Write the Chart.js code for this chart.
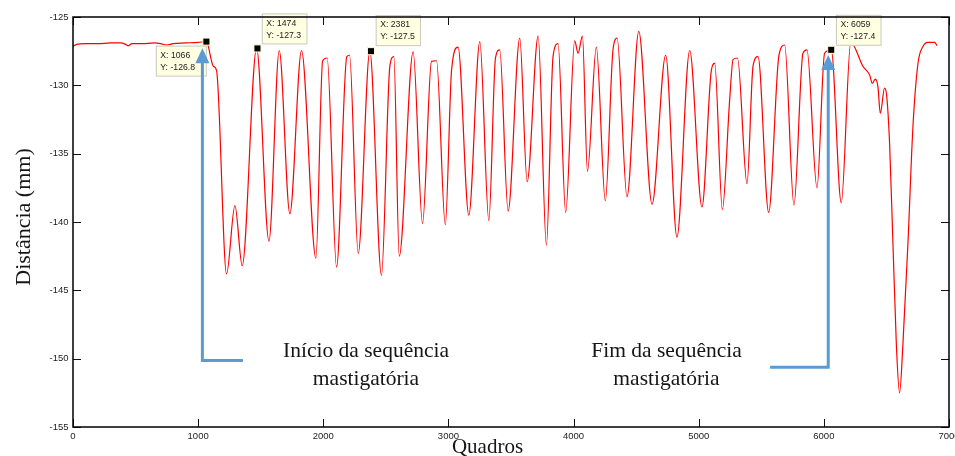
<!DOCTYPE html>
<html><head><meta charset="utf-8">
<script src="https://cdn.jsdelivr.net/npm/chart.js@4/dist/chart.umd.min.js"></script>
<style>html,body{margin:0;padding:0;background:#fff;}canvas{display:block;}</style>
</head><body>
<canvas id="c" width="955" height="456"></canvas>
<script>
// ---- data ----
const frames = [0,30,100,200,300,380,420,442,470,550,650,700,748,800,900,1000,1066,
1121,1147,1227,1294,1352,1467,1566,1648,1733,1826,1941,1995,2031,2106,2188,2210,2279,2372,2465,2532,2564,2607,2718,2793,2865,2905,2975,3025,3077,3163,3251,3323,3376,3410,3477,3570,3629,3717,3783,3836,3876,3937,4009,4036,4071,4111,4182,4254,4315,4348,4427,4521,4627,4736,4826,4928,5026,5101,5128,5189,5247,5275,5310,5386,5434,5474,5559,5641,5687,5761,5833,5865,5945,6006,6059,6139,6215,6312,6366,6387,6411,6432,6451,6485,6500,6525,6552,6579,6605,6632,6672,6712,6752,6792,6832,6885,6904];
const distance = [-127.15,-127.0,-126.95,-126.95,-126.9,-126.9,-127.0,-127.1,-126.95,-126.95,-126.9,-126.95,-127.05,-126.95,-126.9,-126.85,-126.8,
-128.6,-128.9,-143.8,-138.8,-143.2,-127.3,-141.4,-127.45,-139.4,-127.45,-142.65,-128.2,-128.0,-143.3,-127.9,-127.8,-142.3,-127.5,-143.9,-128.6,-127.9,-142.5,-127.55,-140.1,-128.25,-128.2,-140.2,-128.9,-127.2,-139.5,-126.8,-139.9,-128.0,-127.4,-139.2,-126.55,-137.05,-126.4,-141.7,-127.9,-126.95,-139.3,-126.75,-127.65,-126.4,-136.3,-127.2,-138.45,-127.4,-126.55,-138.15,-126.05,-138.7,-127.8,-141.1,-127.45,-138.9,-128.9,-128.4,-139.1,-131.1,-128.1,-128.0,-137.2,-128.6,-127.9,-139.3,-127.8,-127.05,-138.75,-127.65,-127.4,-137.5,-127.65,-127.4,-138.6,-126.85,-128.6,-129.25,-129.85,-129.55,-130.1,-132.05,-130.2,-130.6,-134.2,-141.55,-148.9,-152.5,-148.9,-141.55,-133.0,-128.4,-127.15,-126.85,-126.85,-127.1];
const xTickValues = [0,1000,2000,3000,4000,5000,6000,7000];
const yTickValues = [-155,-150,-145,-140,-135,-130,-125];
const tipFrames = [1066,1474,2381,6059];
const tipValues = [-126.8,-127.3,-127.5,-127.4];
const xTitle = 'Quadros';
const yTitle = 'Distância (mm)';
const startLabel = ['Início da sequência','mastigatória'];
const endLabel = ['Fim da sequência','mastigatória'];

// ---- layout / style (not data) ----
const tipLayout = [ {dx:-50.6, dy:4, w:51}, {dx:4.3, dy:-35, w:45.7}, {dx:4.7, dy:-36, w:45.3}, {dx:4.7, dy:-35, w:45.6} ];
const arrows = [ {x:1034, top:-127.29, bottom:-150.14, hx:1358}, {x:6035, top:-127.78, bottom:-150.63, hx:5570} ];
const SANS = "'Liberation Sans', Arial, sans-serif";
const SERIF = "'Liberation Serif', 'Times New Roman', serif";

const lineData = frames.map((f,i)=>({x:f, y:distance[i]}));
const tipData = tipFrames.map((f,i)=>({x:f, y:tipValues[i]}));

const deco = {
  id:'deco',
  beforeDraw(chart){
    const c = chart.ctx; c.save(); c.fillStyle='#fff'; c.fillRect(0,0,chart.width,chart.height); c.restore();
  },
  afterDatasetsDraw(chart){
    const c = chart.ctx, xs = chart.scales.x, ys = chart.scales.y;
    c.save();
    // data tips
    c.font = '8.7px ' + SANS;
    c.textBaseline = 'middle'; c.textAlign = 'left';
    tipFrames.forEach((f,i)=>{
      const mx = xs.getPixelForValue(f), my = ys.getPixelForValue(tipValues[i]);
      const L = tipLayout[i];
      const bx = mx + L.dx, by = my + L.dy, bw = L.w, bh = 31;
      c.fillStyle = '#FFFFE1'; c.fillRect(bx, by, bw, bh);
      c.strokeStyle = '#C9C9C0'; c.lineWidth = 1; c.strokeRect(bx+0.5, by+0.5, bw-1, bh-1);
      c.fillStyle = '#222';
      c.fillText('X: ' + f, bx+4.5, by+9.8);
      c.fillText('Y: ' + tipValues[i].toFixed(1), bx+4.5, by+21.8);
    });
    // arrows (drawn over the tips)
    const blue = '#5B9BD5';
    arrows.forEach(a=>{
      const x = xs.getPixelForValue(a.x), yt = ys.getPixelForValue(a.top), yb = ys.getPixelForValue(a.bottom), hx = xs.getPixelForValue(a.hx);
      c.strokeStyle = blue; c.lineWidth = 3; c.lineJoin='miter'; c.lineCap='butt';
      c.beginPath(); c.moveTo(hx, yb); c.lineTo(x, yb); c.lineTo(x, yt+14); c.stroke();
      c.fillStyle = blue; c.beginPath(); c.moveTo(x, yt); c.lineTo(x-7, yt+15); c.lineTo(x+7, yt+15); c.closePath(); c.fill();
    });
    c.restore();
  },
  afterDraw(chart){
    const c = chart.ctx, a = chart.chartArea, xs = chart.scales.x, ys = chart.scales.y;
    c.save();
    // inward ticks
    c.strokeStyle = '#111'; c.lineWidth = 1;
    const tl = 8;
    xTickValues.forEach(v=>{
      const x = Math.round(xs.getPixelForValue(v))+0.5;
      c.beginPath(); c.moveTo(x, a.bottom); c.lineTo(x, a.bottom-tl); c.moveTo(x, a.top); c.lineTo(x, a.top+tl); c.stroke();
    });
    yTickValues.forEach(v=>{
      const y = Math.round(ys.getPixelForValue(v))+0.5;
      c.beginPath(); c.moveTo(a.left, y); c.lineTo(a.left+tl, y); c.moveTo(a.right, y); c.lineTo(a.right-tl, y); c.stroke();
    });
    // box
    c.strokeStyle = '#000'; c.lineWidth = 1.5;
    c.strokeRect(a.left, a.top, a.right-a.left, a.bottom-a.top);
    // annotation texts
    c.fillStyle = '#151515'; c.textAlign = 'center'; c.textBaseline = 'alphabetic';
    c.font = '21.5px ' + SERIF;
    c.fillText(startLabel[0], 366, 356.7);
    c.fillText(startLabel[1], 366, 384.5);
    c.fillText(endLabel[0], 666.5, 356.7);
    c.fillText(endLabel[1], 666.5, 384.5);
    // axis titles
    c.font = '21px ' + SERIF;
    c.fillText(xTitle, 487.5, 452.5);
    c.save();
    c.translate(30, 217); c.rotate(-Math.PI/2);
    c.font = '22px ' + SERIF;
    c.fillText(yTitle, 0, 0);
    c.restore();
    c.restore();
  }
};

new Chart(document.getElementById('c'), {
  type: 'line',
  data: {
    datasets: [
      { data: tipData, showLine:false, pointStyle:'rect', pointRadius:5, pointBackgroundColor:'#000', pointBorderColor:'#FFFFCC', pointBorderWidth:1, order:1 },
      { data: lineData, borderColor:'#FF0000', borderWidth:1.2, pointRadius:0, cubicInterpolationMode:'monotone', fill:false, order:2 }
    ]
  },
  options: {
    responsive:false, animation:false, devicePixelRatio:1,
    layout:{ padding:{ top:17, right:4, left:0, bottom:0 } },
    plugins:{ legend:{display:false}, tooltip:{enabled:false} },
    scales:{
      x:{ type:'linear', min:0, max:7000,
          grid:{display:false, drawTicks:false}, border:{display:false},
          afterBuildTicks:s=>{ s.ticks = xTickValues.map(v=>({value:v})); },
          afterFit:s=>{ s.height = 29; s.paddingLeft = 0; s.paddingRight = 0; },
          ticks:{ autoSkip:false, maxRotation:0, padding:4, color:'#222', font:{family:SANS, size:9.5}, callback:v=>String(v) } },
      y:{ type:'linear', min:-155, max:-125,
          grid:{display:false, drawTicks:false}, border:{display:false},
          afterBuildTicks:s=>{ s.ticks = yTickValues.map(v=>({value:v})); },
          afterFit:s=>{ s.width = 73; s.paddingTop = 0; s.paddingBottom = 0; },
          ticks:{ autoSkip:false, padding:4.5, color:'#222', font:{family:SANS, size:9.5}, callback:v=>String(v) } }
    }
  },
  plugins:[deco]
});
</script>
</body></html>
